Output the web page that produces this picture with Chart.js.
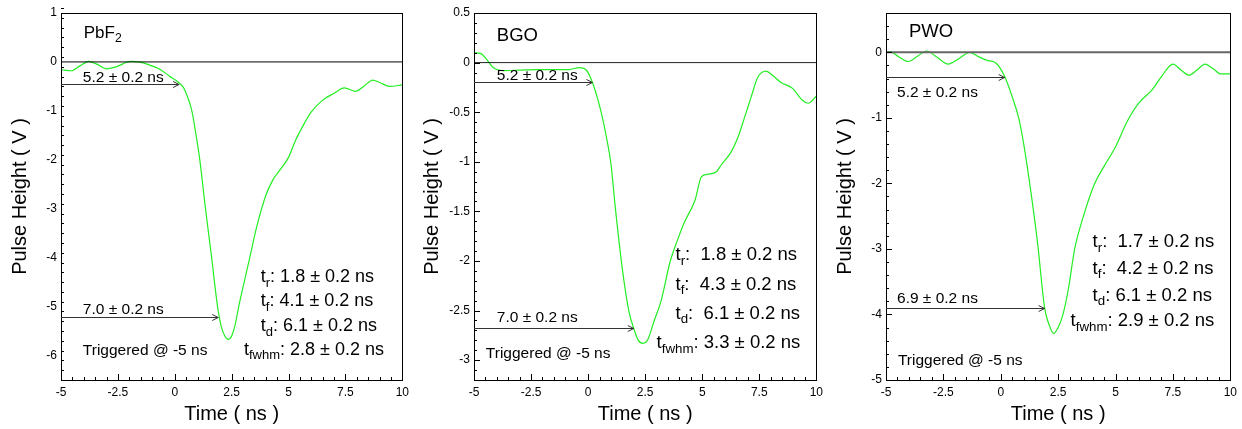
<!DOCTYPE html>
<html>
<head>
<meta charset="utf-8">
<script src="https://cdn.jsdelivr.net/npm/chart.js@4/dist/chart.umd.min.js"></script>
<style>
  html, body { margin: 0; padding: 0; background: #fff; }
  #wrap { position: relative; width: 1242px; height: 429px; }
  .panel { position: absolute; top: 0; width: 414px; height: 429px; }
</style>
</head>
<body>
<div id="wrap">
  <div class="panel" style="left:0px"><canvas id="pbf2" width="414" height="429"></canvas></div>
  <div class="panel" style="left:414px"><canvas id="bgo" width="414" height="429"></canvas></div>
  <div class="panel" style="left:828px"><canvas id="pwo" width="414" height="429"></canvas></div>
</div>
<script>
// pulse shapes (time in ns, height in V)

const xTicks = [-5, -2.5, 0, 2.5, 5, 7.5, 10];

const pbf2Time = [-5.0, -4.55, -4.17, -3.77, -3.45, -3.0, -2.58, -1.93, -1.57, -1.13, -0.7, -0.26, 0.17, 0.39,
  0.55, 0.75, 0.92, 1.1, 1.35, 1.62, 1.88, 2.05, 2.2, 2.35, 2.5, 2.65, 2.81, 3.05, 3.3, 3.6, 4.0, 4.3, 4.6,
  5.0, 5.3, 5.7, 6.0, 6.5, 7.0, 7.45, 7.93, 8.3, 8.7, 9.0, 9.45, 10.0];
const pbf2Volt = [-0.16, -0.18, -0.08, 0.01, -0.04, -0.14, -0.10, 0.01, 0.0, -0.06, -0.14, -0.28, -0.42, -0.53,
  -0.70, -1.0, -1.45, -2.0, -3.0, -4.0, -5.0, -5.42, -5.6, -5.67, -5.6, -5.38, -5.0, -4.5, -3.99, -3.37, -2.73, -2.42, -2.22,
  -1.95, -1.61, -1.25, -1.02, -0.78, -0.64, -0.53, -0.60, -0.50, -0.37, -0.42, -0.50, -0.47];

const bgoTime = [-5.0, -4.7, -4.4, -4.16, -3.73, -3.0, -2.27, -1.5, -0.83, -0.39, -0.1, 0.19, 0.55, 0.8, 1.0,
  1.2, 1.5, 1.78, 2.0, 2.2, 2.4, 2.6, 2.9, 3.2, 3.6, 3.9, 4.2, 4.68, 4.97, 5.26, 5.62, 5.84, 6.27, 6.57,
  6.86, 7.14, 7.43, 7.8, 8.09, 8.45, 8.96, 9.39, 9.64, 10.0];
const bgoVolt = [0.10, 0.09, 0.02, -0.05, -0.08, -0.075, -0.07, -0.07, -0.07, -0.05, -0.07, -0.20, -0.48, -0.75, -1.02,
  -1.48, -2.08, -2.5, -2.68, -2.80, -2.83, -2.80, -2.6, -2.4, -2.0, -1.8, -1.62, -1.39, -1.15, -1.125, -1.10, -1.03, -0.90, -0.75,
  -0.55, -0.35, -0.15, -0.087, -0.13, -0.20, -0.26, -0.38, -0.41, -0.34];

const pwoTime = [-5.0, -4.83, -4.43, -4.03, -3.63, -3.23, -2.76, -2.29, -1.8, -1.35, -0.95, -0.62, -0.19, 0.17,
  0.5, 0.78, 1.0, 1.3, 1.6, 1.91, 2.1, 2.3, 2.5, 2.71, 2.95, 3.22, 3.6, 4.09, 4.5, 5.0, 5.5, 6.0, 6.6,
  7.0, 7.5, 7.85, 8.2, 8.55, 8.9, 9.25, 9.6, 10.0];
const pwoVolt = [0.0, 0.01, -0.07, -0.14, -0.06, 0.02, -0.08, -0.18, -0.09, 0.0, -0.07, -0.12, -0.17, -0.37,
  -0.68, -1.0, -1.4, -2.1, -2.9, -3.9, -4.15, -4.29, -4.2, -4.0, -3.6, -3.0, -2.5, -2.0, -1.74, -1.44, -1.06, -0.78, -0.57,
  -0.37, -0.18, -0.27, -0.35, -0.27, -0.18, -0.25, -0.33, -0.33];

// arrow heads: where the 5.2 ns / 7.0 ns markers hit the trace
const pbf2ArrowX = [0.19, 1.91];
const pbf2ArrowY = [-0.46, -5.21];
const bgoArrowX = [0.19, 2.0];
const bgoArrowY = [-0.20, -2.68];
const pwoArrowX = [0.17, 1.91];
const pwoArrowY = [-0.37, -3.90];

const pbf2YTicks = [-6, -5, -4, -3, -2, -1, 0, 1];
const bgoYTicks = [-3, -2.5, -2, -1.5, -1, -0.5, 0, 0.5];
const pwoYTicks = [-5, -4, -3, -2, -1, 0];

const FONT = '"Liberation Sans", Arial, Helvetica, sans-serif';
Chart.defaults.font.family = FONT;
Chart.defaults.color = '#000';

// ROOT-ish TLatex: only handles _{...} subscripts
function drawRich(ctx, str, x, y, size) {
  const parts = str.split(/(_\{[^}]*\})/);
  let cx = x;
  ctx.textAlign = 'left';
  ctx.textBaseline = 'middle';
  parts.forEach(p => {
    if (!p) return;
    if (p.startsWith('_{')) {
      const sub = p.slice(2, -1);
      ctx.font = `${(size * 0.72).toFixed(1)}px ${FONT}`;
      ctx.fillText(sub, cx, y + size * 0.32);
      cx += ctx.measureText(sub).width;
    } else {
      ctx.font = `${size}px ${FONT}`;
      ctx.fillText(p, cx, y);
      cx += ctx.measureText(p).width;
    }
  });
}

const decor = {
  id: 'decor',
  afterDraw(chart, args, opts) {
    const { ctx, chartArea: a, scales: { x, y } } = chart;
    ctx.save();
    ctx.strokeStyle = '#000';
    ctx.lineWidth = 1;

    // inward ticks, major + minor
    ctx.beginPath();
    for (let i = 0; i <= 30; i++) {
      const v = -5 + i * 0.5;
      const px = Math.round(x.getPixelForValue(v)) + 0.5;
      ctx.moveTo(px, a.bottom);
      ctx.lineTo(px, a.bottom - (i % 5 === 0 ? 6 : 3));
    }
    const n = Math.round((opts.yMax - opts.yMin) / opts.yMinor);
    for (let i = 0; i <= n; i++) {
      const v = opts.yMin + i * opts.yMinor;
      const py = Math.round(y.getPixelForValue(v)) + 0.5;
      const major = Math.abs(v / opts.yMajor - Math.round(v / opts.yMajor)) < 1e-6;
      ctx.moveTo(a.left, py);
      ctx.lineTo(a.left + (major ? 6 : 3), py);
    }
    ctx.stroke();

    // frame
    ctx.strokeRect(Math.round(a.left) + 0.5, Math.round(a.top) + 0.5,
      Math.round(a.right - a.left), Math.round(a.bottom - a.top));

    // arrows from the trigger time to the trace
    ctx.strokeStyle = '#333';
    opts.arrowX.forEach((ax, i) => {
      const x0 = x.getPixelForValue(-5);
      const x1 = x.getPixelForValue(ax);
      const py = Math.round(y.getPixelForValue(opts.arrowY[i])) + 0.5;
      ctx.beginPath();
      ctx.moveTo(x0, py);
      ctx.lineTo(x1, py);
      ctx.moveTo(x1 - 6, py - 3);
      ctx.lineTo(x1, py);
      ctx.lineTo(x1 - 6, py + 3);
      ctx.stroke();
    });

    ctx.fillStyle = '#000';
    opts.notes.forEach(nt => {
      drawRich(ctx, nt.text, x.getPixelForValue(nt.x), y.getPixelForValue(nt.y), nt.size);
    });
    ctx.restore();
  }
};

function makePanel(id, cfg) {
  const pts = cfg.time.map((t, i) => ({ x: t, y: cfg.volt[i] }));
  return new Chart(document.getElementById(id), {
    type: 'line',
    data: {
      datasets: [
        {
          data: [{ x: -5, y: 0 }, { x: 10, y: 0 }],
          borderColor: cfg.zeroColor, borderWidth: cfg.zeroWidth, pointRadius: 0
        },
        {
          data: pts,
          borderColor: '#22ee22', borderWidth: 1.2, pointRadius: 0,
          cubicInterpolationMode: 'monotone'
        }
      ]
    },
    options: {
      responsive: false,
      animation: false,
      devicePixelRatio: 1,
      layout: { padding: { top: 13, right: cfg.padRight, left: 0, bottom: 0 } },
      plugins: {
        legend: { display: false },
        tooltip: { enabled: false },
        decor: {
          yMin: cfg.yMin, yMax: cfg.yMax, yMajor: cfg.yMajor, yMinor: cfg.yMinor,
          arrowX: cfg.arrowX, arrowY: cfg.arrowY, notes: cfg.notes
        }
      },
      scales: {
        x: {
          type: 'linear', min: -5, max: 10,
          afterBuildTicks: s => { s.ticks = xTicks.map(v => ({ value: v })); },
          afterFit: s => { s.height = 49; },
          grid: { display: false, drawTicks: false },
          border: { display: false },
          ticks: { padding: 5, autoSkip: false, maxRotation: 0, font: { size: 12 }, callback: v => String(v) },
          title: { display: true, text: 'Time ( ns )', font: { size: 20 }, padding: { bottom: 3, top: 0 } }
        },
        y: {
          type: 'linear', min: cfg.yMin, max: cfg.yMax,
          afterBuildTicks: s => { s.ticks = cfg.yTicks.map(v => ({ value: v })); },
          afterFit: s => { s.width = cfg.left; },
          grid: { display: false, drawTicks: false },
          border: { display: false },
          ticks: { padding: 4, autoSkip: false, font: { size: 12 }, callback: v => String(v) },
          title: { display: true, text: 'Pulse Height ( V )', font: { size: 20 }, padding: { top: cfg.titlePad, bottom: 0 } }
        }
      }
    },
    plugins: [decor]
  });
}

makePanel('pbf2', {
  time: pbf2Time, volt: pbf2Volt, yTicks: pbf2YTicks,
  yMin: -6.5, yMax: 1, yMajor: 1, yMinor: 0.2,
  left: 61, padRight: 8, titlePad: 8,
  zeroColor: '#000', zeroWidth: 1,
  arrowX: pbf2ArrowX, arrowY: pbf2ArrowY,
  notes: [
    { text: 'PbF_{2}', x: -4.0, y: 0.58, size: 17 },
    { text: '5.2 ± 0.2 ns', x: -4.04, y: -0.32, size: 15.5 },
    { text: '7.0 ± 0.2 ns', x: -4.04, y: -5.07, size: 15.5 },
    { text: 'Triggered @ -5 ns', x: -4.04, y: -5.91, size: 15.5 },
    { text: 't_{r}: 1.8 ± 0.2 ns', x: 3.78, y: -4.40, size: 18 },
    { text: 't_{f}: 4.1 ± 0.2 ns', x: 3.78, y: -4.89, size: 18 },
    { text: 't_{d}: 6.1 ± 0.2 ns', x: 3.78, y: -5.40, size: 18 },
    { text: 't_{fwhm}: 2.8 ± 0.2 ns', x: 3.04, y: -5.89, size: 18 }
  ]
});

makePanel('bgo', {
  time: bgoTime, volt: bgoVolt, yTicks: bgoYTicks,
  yMin: -3.2, yMax: 0.5, yMajor: 0.5, yMinor: 0.1,
  left: 60, padRight: 9, titlePad: 6,
  zeroColor: '#222', zeroWidth: 1,
  arrowX: bgoArrowX, arrowY: bgoArrowY,
  notes: [
    { text: 'BGO', x: -4.0, y: 0.27, size: 18.5 },
    { text: '5.2 ± 0.2 ns', x: -4.0, y: -0.13, size: 15.5 },
    { text: '7.0 ± 0.2 ns', x: -4.0, y: -2.57, size: 15.5 },
    { text: 'Triggered @ -5 ns', x: -4.48, y: -2.93, size: 15.5 },
    { text: 't_{r}:  1.8 ± 0.2 ns', x: 3.83, y: -1.94, size: 18.5 },
    { text: 't_{f}:  4.3 ± 0.2 ns', x: 3.83, y: -2.24, size: 18.5 },
    { text: 't_{d}:  6.1 ± 0.2 ns', x: 3.83, y: -2.53, size: 18.5 },
    { text: 't_{fwhm}: 3.3 ± 0.2 ns', x: 3.0, y: -2.83, size: 18.5 }
  ]
});

makePanel('pwo', {
  time: pwoTime, volt: pwoVolt, yTicks: pwoYTicks,
  yMin: -5, yMax: 0.6, yMajor: 1, yMinor: 0.2,
  left: 58, padRight: 11, titlePad: 5,
  zeroColor: '#666', zeroWidth: 2,
  arrowX: pwoArrowX, arrowY: pwoArrowY,
  notes: [
    { text: 'PWO', x: -4.0, y: 0.31, size: 18.5 },
    { text: '5.2 ± 0.2 ns', x: -4.52, y: -0.62, size: 15.5 },
    { text: '6.9 ± 0.2 ns', x: -4.52, y: -3.76, size: 15.5 },
    { text: 'Triggered @ -5 ns', x: -4.48, y: -4.71, size: 15.5 },
    { text: 't_{r}:  1.7 ± 0.2 ns', x: 4.0, y: -2.90, size: 18.5 },
    { text: 't_{f}:  4.2 ± 0.2 ns', x: 4.0, y: -3.30, size: 18.5 },
    { text: 't_{d}: 6.1 ± 0.2 ns', x: 4.0, y: -3.71, size: 18.5 },
    { text: 't_{fwhm}: 2.9 ± 0.2 ns', x: 3.04, y: -4.10, size: 18.5 }
  ]
});
</script>
</body>
</html>
